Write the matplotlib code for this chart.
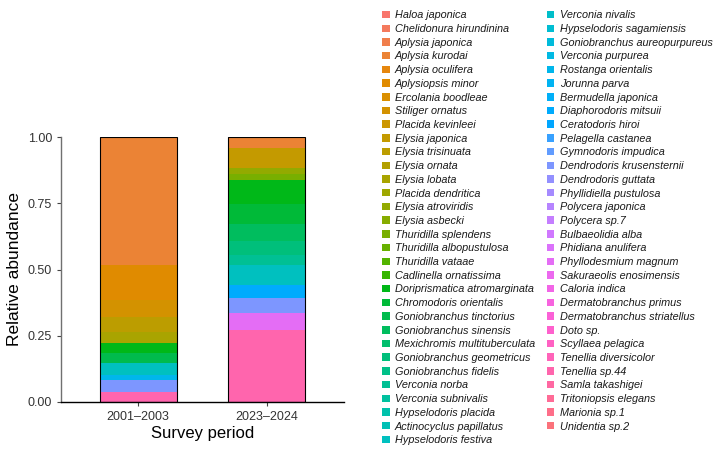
import numpy as np
import matplotlib
matplotlib.use("Agg")
import matplotlib.pyplot as plt
from matplotlib.patches import Rectangle

plt.rcParams['font.family'] = ['Liberation Sans', 'DejaVu Sans']

# species, in legend order (first = top of stack)
species = [
    "Haloa japonica", "Chelidonura hirundinina", "Aplysia japonica", "Aplysia kurodai",
    "Aplysia oculifera", "Aplysiopsis minor", "Ercolania boodleae", "Stiliger ornatus",
    "Placida kevinleei", "Elysia japonica", "Elysia trisinuata", "Elysia ornata",
    "Elysia lobata", "Placida dendritica", "Elysia atroviridis", "Elysia asbecki",
    "Thuridilla splendens", "Thuridilla albopustulosa", "Thuridilla vataae",
    "Cadlinella ornatissima", "Doriprismatica atromarginata", "Chromodoris orientalis",
    "Goniobranchus tinctorius", "Goniobranchus sinensis", "Mexichromis multituberculata",
    "Goniobranchus geometricus", "Goniobranchus fidelis", "Verconia norba",
    "Verconia subnivalis", "Hypselodoris placida", "Actinocyclus papillatus",
    "Hypselodoris festiva", "Verconia nivalis", "Hypselodoris sagamiensis",
    "Goniobranchus aureopurpureus", "Verconia purpurea", "Rostanga orientalis",
    "Jorunna parva", "Bermudella japonica", "Diaphorodoris mitsuii", "Ceratodoris hiroi",
    "Pelagella castanea", "Gymnodoris impudica", "Dendrodoris krusensternii",
    "Dendrodoris guttata", "Phyllidiella pustulosa", "Polycera japonica", "Polycera sp.7",
    "Bulbaeolidia alba", "Phidiana anulifera", "Phyllodesmium magnum",
    "Sakuraeolis enosimensis", "Caloria indica", "Dermatobranchus primus",
    "Dermatobranchus striatellus", "Doto sp.", "Scyllaea pelagica", "Tenellia diversicolor",
    "Tenellia sp.44", "Samla takashigei", "Tritoniopsis elegans", "Marionia sp.1",
    "Unidentia sp.2",
]

periods = ["2001\u20132003", "2023\u20132024"]

# relative abundance; species not listed = 0
p1 = {
    "Haloa japonica": 0.004, "Aplysia kurodai": 0.479, "Aplysiopsis minor": 0.132,
    "Stiliger ornatus": 0.064, "Elysia trisinuata": 0.057, "Elysia lobata": 0.042,
    "Doriprismatica atromarginata": 0.038, "Goniobranchus tinctorius": 0.038,
    "Hypselodoris festiva": 0.045, "Rostanga orientalis": 0.019,
    "Dendrodoris krusensternii": 0.045, "Tenellia sp.44": 0.037,
}
p2 = {
    "Aplysia kurodai": 0.042, "Elysia japonica": 0.075, "Elysia atroviridis": 0.023,
    "Thuridilla splendens": 0.023, "Doriprismatica atromarginata": 0.087,
    "Chromodoris orientalis": 0.075, "Goniobranchus sinensis": 0.064,
    "Goniobranchus geometricus": 0.053, "Verconia norba": 0.038,
    "Hypselodoris festiva": 0.075, "Diaphorodoris mitsuii": 0.049,
    "Dendrodoris krusensternii": 0.057, "Phyllodesmium magnum": 0.064,
    "Tenellia sp.44": 0.270,
}


def hue_pal(n, l=65, c=100):
    # ggplot2 default hue palette (HCL -> sRGB)
    h = np.deg2rad(15 + 360 * np.arange(n) / n)
    Xn, Yn, Zn = 95.047, 100.0, 108.883
    un = 4 * Xn / (Xn + 15 * Yn + 3 * Zn)
    vn = 9 * Yn / (Xn + 15 * Yn + 3 * Zn)
    u = c * np.cos(h)
    v = c * np.sin(h)
    Y = Yn * ((l + 16) / 116) ** 3
    up = u / (13 * l) + un
    vp = v / (13 * l) + vn
    X = Y * 9 * up / (4 * vp)
    Z = Y * (12 - 3 * up - 20 * vp) / (4 * vp)
    M = np.array([[3.2404542, -1.5371385, -0.4985314],
                  [-0.9692660, 1.8760108, 0.0415560],
                  [0.0556434, -0.2040259, 1.0572252]])
    rgb = M @ np.vstack([X, np.full(n, Y), Z]) / 100
    rgb = np.where(rgb <= 0.0031308, 12.92 * rgb, 1.055 * np.abs(rgb) ** (1 / 2.4) - 0.055)
    return np.clip(rgb.T, 0, 1)


colors = hue_pal(len(species))

fig = plt.figure(figsize=(7.14, 4.53), dpi=100)
ax = fig.add_axes([61 / 714, 1 - 402 / 453, (344 - 61) / 714, 265 / 453])

x = np.arange(1, 3)
vals = np.array([[p1.get(s, 0), p2.get(s, 0)] for s in species])
vals = vals / vals.sum(axis=0)

# stack: last level at the bottom
bottom = np.zeros(2)
for i in range(len(species) - 1, -1, -1):
    ax.bar(x, vals[i], width=0.6, bottom=bottom, color=colors[i], linewidth=0)
    bottom += vals[i]
ax.bar(x, bottom, width=0.6, fill=False, edgecolor='black', linewidth=0.8)

ax.set_xlim(0.4, 2.6)
ax.set_ylim(0, 1)
ax.set_xticks(x)
ax.set_xticklabels(periods)
ax.set_yticks([0, 0.25, 0.5, 0.75, 1.0])
ax.set_yticklabels(["0.00", "0.25", "0.50", "0.75", "1.00"])
ax.tick_params(labelsize=9, colors='#444444', labelcolor='#333333', length=3, width=0.8)
ax.set_ylabel("Relative abundance", fontsize=12.5, labelpad=4)
ax.set_xlabel("Survey period", fontsize=12, labelpad=2)
for s in ['top', 'right']:
    ax.spines[s].set_visible(False)
ax.spines['left'].set_color('#707070')
ax.spines['bottom'].set_color('black')
ax.spines['left'].set_linewidth(1.0)
ax.spines['bottom'].set_linewidth(1.0)

handles = [Rectangle((0, 0), 1, 1, facecolor=colors[i], edgecolor='none') for i in range(len(species))]
leg = fig.legend(handles, species, loc='upper left', bbox_to_anchor=(378 / 714, 1 - 6 / 453),
                 ncol=2, frameon=False, fontsize=7.85, handlelength=0.68, handleheight=0.68,
                 handletextpad=0.48, labelspacing=0.34, columnspacing=1.08, borderaxespad=0)
for t in leg.get_texts():
    t.set_fontstyle('italic')
    t.set_color('#1a1a1a')

fig.savefig("out.png", dpi=100)
